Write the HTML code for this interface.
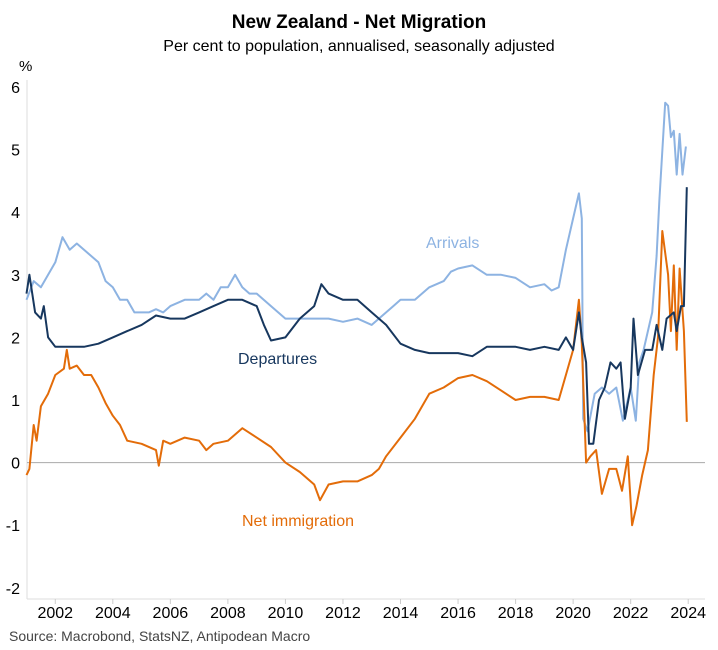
<!DOCTYPE html>
<html><head><meta charset="utf-8"><style>
body{margin:0;background:#fff;}
svg{display:block;font-family:"Liberation Sans",Arial,sans-serif;}
</style></head><body>
<svg id="chart" width="718" height="650" viewBox="0 0 718 650">
<text x="359" y="28" text-anchor="middle" font-size="19" font-weight="bold" fill="#000">New Zealand - Net Migration</text>
<text x="359" y="51" text-anchor="middle" font-size="16" fill="#000">Per cent to population, annualised, seasonally adjusted</text>
<text x="19" y="71" font-size="15" fill="#000">%</text>
<line x1="27" y1="80" x2="27" y2="599" stroke="#ddd"/>
<line x1="27" y1="599" x2="705" y2="599" stroke="#ddd"/>
<g id="yt"></g><g id="xt"></g>
<line id="zero" x1="27" x2="705" stroke="#aaa" stroke-width="1"/>
<g id="series"></g>
<text x="426" y="248" font-size="16" fill="#8db3e2">Arrivals</text>
<text x="238" y="364" font-size="16" fill="#17375e">Departures</text>
<text x="242" y="526" font-size="16" fill="#e36c09">Net immigration</text>
<text x="9" y="641" font-size="14" fill="#444">Source: Macrobond, StatsNZ, Antipodean Macro</text>
</svg>
<script>
const yTicks=[6,5,4,3,2,1,0,-1,-2];
const xTicks=[2002,2004,2006,2008,2010,2012,2014,2016,2018,2020,2022,2024];
const arrT=[2001,2001.25,2001.5,2001.75,2002,2002.25,2002.5,2002.75,2003,2003.25,2003.5,2003.75,2004,2004.25,2004.5,2004.75,2005,2005.25,2005.5,2005.75,2006,2006.5,2007,2007.25,2007.5,2007.75,2008,2008.25,2008.5,2008.75,2009,2009.5,2010,2010.5,2011,2011.5,2012,2012.5,2013,2013.25,2013.5,2013.75,2014,2014.5,2015,2015.5,2015.75,2016,2016.5,2017,2017.5,2018,2018.5,2019,2019.25,2019.5,2019.75,2020,2020.2,2020.3,2020.35,2020.5,2020.75,2021,2021.25,2021.5,2021.73,2021.9,2022.0,2022.18,2022.3,2022.45,2022.6,2022.75,2022.9,2023.0,2023.2,2023.3,2023.4,2023.5,2023.6,2023.7,2023.8,2023.92];
const arrV=[2.6,2.9,2.8,3.0,3.2,3.6,3.4,3.5,3.4,3.3,3.2,2.9,2.8,2.6,2.6,2.4,2.4,2.4,2.45,2.4,2.5,2.6,2.6,2.7,2.6,2.8,2.8,3.0,2.8,2.7,2.7,2.5,2.3,2.3,2.3,2.3,2.25,2.3,2.2,2.3,2.4,2.5,2.6,2.6,2.8,2.9,3.05,3.1,3.15,3.0,3.0,2.95,2.8,2.85,2.75,2.8,3.4,3.9,4.3,3.9,0.7,0.5,1.1,1.2,1.1,1.2,0.67,1.0,1.2,0.67,1.6,1.8,2.1,2.4,3.3,4.2,5.75,5.7,5.2,5.3,4.6,5.25,4.6,5.05];
const depT=[2001,2001.1,2001.3,2001.5,2001.6,2001.75,2002,2002.5,2003,2003.5,2004,2004.5,2005,2005.5,2006,2006.5,2007,2007.5,2008,2008.5,2009,2009.25,2009.5,2010,2010.5,2011,2011.25,2011.5,2012,2012.5,2013,2013.5,2014,2014.5,2015,2016,2016.5,2017,2017.5,2018,2018.5,2019,2019.5,2019.75,2020,2020.2,2020.3,2020.45,2020.55,2020.7,2020.9,2021.1,2021.3,2021.5,2021.65,2021.8,2022.0,2022.1,2022.25,2022.5,2022.75,2022.9,2023.1,2023.25,2023.5,2023.6,2023.75,2023.85,2023.95];
const depV=[2.7,3.0,2.4,2.3,2.5,2.0,1.85,1.85,1.85,1.9,2.0,2.1,2.2,2.35,2.3,2.3,2.4,2.5,2.6,2.6,2.5,2.2,1.95,2.0,2.3,2.5,2.85,2.7,2.6,2.6,2.4,2.2,1.9,1.8,1.75,1.75,1.7,1.85,1.85,1.85,1.8,1.85,1.8,2.0,1.8,2.4,2.0,1.6,0.3,0.3,1.0,1.2,1.6,1.5,1.6,0.7,1.2,2.3,1.4,1.8,1.8,2.2,1.8,2.3,2.4,2.1,2.5,2.5,4.4];
const netT=[2001,2001.1,2001.25,2001.35,2001.5,2001.75,2002,2002.3,2002.4,2002.5,2002.75,2003,2003.25,2003.5,2003.75,2004,2004.25,2004.5,2005,2005.5,2005.6,2005.75,2006,2006.5,2007,2007.25,2007.5,2008,2008.5,2009,2009.5,2010,2010.5,2011,2011.2,2011.5,2012,2012.5,2013,2013.25,2013.5,2014,2014.5,2015,2015.5,2016,2016.5,2017,2017.5,2018,2018.5,2019,2019.5,2019.75,2020,2020.2,2020.3,2020.45,2020.6,2020.8,2021,2021.25,2021.5,2021.7,2021.9,2022.05,2022.2,2022.4,2022.6,2022.8,2022.95,2023.1,2023.3,2023.4,2023.5,2023.6,2023.7,2023.85,2023.95];
const netV=[-0.2,-0.1,0.6,0.35,0.9,1.1,1.4,1.5,1.8,1.5,1.55,1.4,1.4,1.2,0.95,0.75,0.6,0.35,0.3,0.2,-0.05,0.35,0.3,0.4,0.35,0.2,0.3,0.35,0.55,0.4,0.25,0.0,-0.15,-0.35,-0.6,-0.35,-0.3,-0.3,-0.2,-0.1,0.1,0.4,0.7,1.1,1.2,1.35,1.4,1.3,1.15,1.0,1.05,1.05,1.0,1.4,1.8,2.6,1.9,0.0,0.1,0.2,-0.5,-0.1,-0.1,-0.45,0.1,-1.0,-0.7,-0.2,0.2,1.4,2.0,3.7,3.0,2.1,3.15,1.8,3.1,2.1,0.65];
const NS='http://www.w3.org/2000/svg';
function xs(t){return 26.5+(t-2001)*28.77;}
function ys(v){return 462.6-v*62.6;}
const yt=document.getElementById('yt'),xt=document.getElementById('xt'),sg=document.getElementById('series');
yTicks.forEach(v=>{const t=document.createElementNS(NS,'text');


t.setAttribute('x',20);t.setAttribute('y',ys(v)+6);t.setAttribute('text-anchor','end');t.setAttribute('font-size','16');t.textContent=v;yt.appendChild(t);});
xTicks.forEach(y=>{const t=document.createElementNS(NS,'text');


t.setAttribute('x',xs(y));t.setAttribute('y',618);t.setAttribute('text-anchor','middle');t.setAttribute('font-size','16');t.textContent=y;xt.appendChild(t);
const l=document.createElementNS(NS,'line');


l.setAttribute('x1',xs(y));l.setAttribute('x2',xs(y));l.setAttribute('y1',599);l.setAttribute('y2',604);l.setAttribute('stroke','#ccc');xt.appendChild(l);});
const z=document.getElementById('zero');z.setAttribute('y1',ys(0));z.setAttribute('y2',ys(0));
function line(T,V,c,name){const p=document.createElementNS(NS,'path');


p.setAttribute('d',T.map((t,i)=>(i?'L':'M')+xs(t).toFixed(1)+','+ys(V[i]).toFixed(1)).join(''));
p.setAttribute('fill','none');p.setAttribute('stroke',c);p.setAttribute('stroke-width','2');p.setAttribute('stroke-linejoin','round');sg.appendChild(p);}
line(arrT,arrV,'#8db3e2','arrivals-line');
line(netT,netV,'#e36c09','net-immigration-line');
line(depT,depV,'#17375e','departures-line');
</script>
</body></html>
